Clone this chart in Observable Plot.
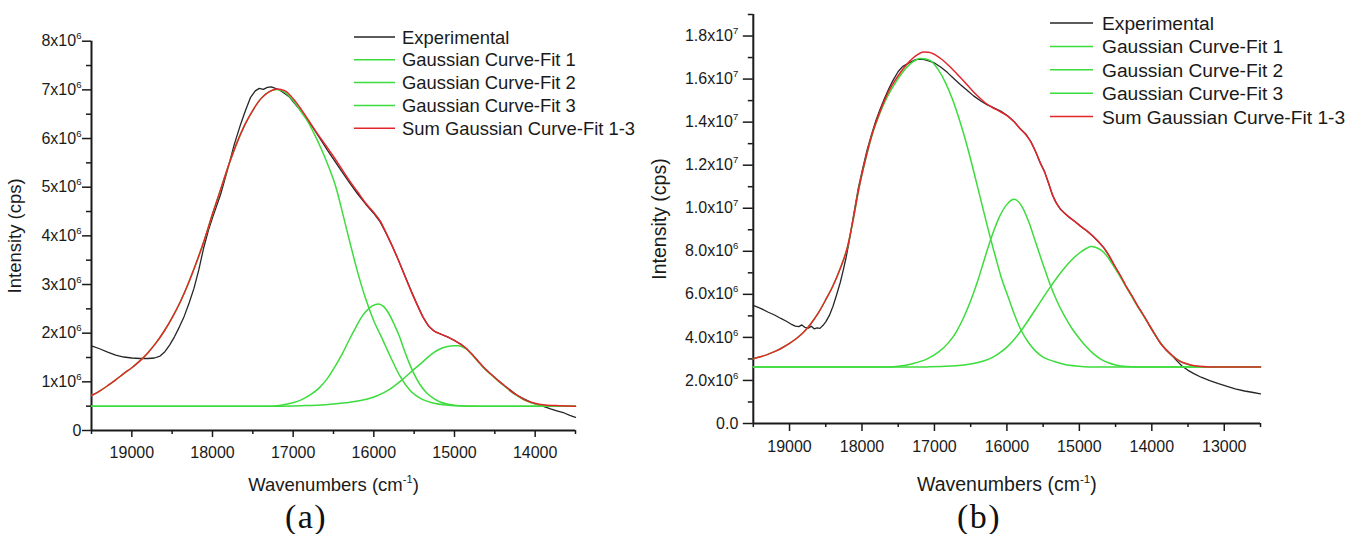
<!DOCTYPE html>
<html><head><meta charset="utf-8">
<script src="https://cdn.jsdelivr.net/npm/d3@7"></script>
<script src="https://cdn.jsdelivr.net/npm/@observablehq/plot@0.6"></script>
<style>
html,body{margin:0;padding:0;background:#fff;}
#root{position:relative;width:1353px;height:534px;overflow:hidden;background:#fff;}
.pl{position:absolute;top:0;}
#overlay{position:absolute;left:0;top:0;}
</style></head><body><div id="root"></div>
<script>
// ---------- DATA (wavenumber cm^-1, intensity in 10^6 cps) ----------
const seriesNames = ["Experimental","Gaussian Curve-Fit 1","Gaussian Curve-Fit 2","Gaussian Curve-Fit 3","Sum Gaussian Curve-Fit 1-3"];
const seriesColors = ["#262626","#3ddc3d","#3ddc3d","#3ddc3d","#e3262b"];

const aXMajor = [19000,18000,17000,16000,15000,14000];
const aXMinor = [19500,18500,17500,16500,15500,14500,13500];
const aYMajor = [0,1,2,3,4,5,6,7,8];
const aYMinor = [0.5,1.5,2.5,3.5,4.5,5.5,6.5,7.5];

const bXMajor = [19000,18000,17000,16000,15000,14000,13000];
const bXMinor = [19500,18500,17500,16500,15500,14500,13500,12500];
const bYMajor = [0,2,4,6,8,10,12,14,16,18];
const bYMinor = [1,3,5,7,9,11,13,15,17,19];

const aExperimental = [[19500,1.74],[19400,1.68],[19300,1.61],[19200,1.55],[19100,1.51],[19000,1.49],[18900,1.48],[18800,1.48],[18720,1.49],[18650,1.53],[18590,1.62],[18530,1.76],[18470,1.93],[18410,2.13],[18350,2.35],[18290,2.62],[18230,2.92],[18170,3.30],[18110,3.75],[18050,4.12],[17990,4.42],[17900,4.85],[17820,5.32],[17730,5.88],[17650,6.30],[17590,6.58],[17530,6.84],[17470,6.98],[17420,7.03],[17370,7.01],[17320,7.05],[17270,7.06],[17220,7.03],[17170,7.00],[17110,6.93],[17050,6.86],[16990,6.74],[16920,6.60],[16860,6.46],[16800,6.33],[16740,6.19],[16660,5.98],[16580,5.77],[16490,5.55],[16400,5.33],[16300,5.09],[16200,4.86],[16100,4.65],[16000,4.46],[15920,4.28],[15850,4.06],[15780,3.82],[15700,3.52],[15620,3.20],[15540,2.88],[15460,2.58],[15390,2.33],[15320,2.14],[15250,2.04],[15170,1.98],[15080,1.92],[15000,1.85],[14920,1.77],[14850,1.68],[14780,1.56],[14710,1.43],[14640,1.30],[14550,1.16],[14460,1.03],[14380,0.92],[14300,0.82],[14220,0.72],[14140,0.65],[14050,0.58],[13970,0.53],[13890,0.49],[13800,0.44],[13720,0.40],[13640,0.36],[13570,0.31],[13500,0.27]];
const aFit1 = [[19500,0.72],[19400,0.81],[19300,0.92],[19200,1.04],[19100,1.17],[19000,1.29],[18900,1.43],[18800,1.60],[18700,1.80],[18600,2.04],[18500,2.32],[18400,2.64],[18300,3.02],[18200,3.45],[18100,3.92],[18000,4.45],[17900,4.95],[17800,5.45],[17700,5.90],[17600,6.28],[17500,6.58],[17400,6.82],[17300,6.96],[17200,7.01],[17100,6.95],[17000,6.78],[16900,6.55],[16820,6.35],[16740,6.10],[16650,5.78],[16560,5.42],[16470,5.00],[16380,4.42],[16290,3.82],[16200,3.25],[16100,2.70],[16000,2.25],[15914,1.95],[15790,1.50],[15670,1.10],[15550,0.82],[15400,0.64],[15250,0.56],[15000,0.51],[14700,0.50],[13500,0.50]];
const aFit2 = [[19500,0.50],[17300,0.50],[17150,0.52],[17030,0.56],[16900,0.63],[16780,0.74],[16680,0.87],[16580,1.06],[16480,1.32],[16390,1.58],[16300,1.88],[16220,2.13],[16140,2.36],[16060,2.51],[15980,2.59],[15940,2.60],[15880,2.55],[15820,2.42],[15750,2.19],[15680,1.92],[15620,1.64],[15560,1.38],[15500,1.16],[15430,0.95],[15350,0.78],[15260,0.66],[15170,0.58],[15080,0.54],[14950,0.51],[14800,0.50],[13500,0.50]];
const aFit3 = [[19500,0.50],[17200,0.50],[16900,0.51],[16600,0.53],[16350,0.57],[16150,0.62],[15950,0.72],[15800,0.85],[15650,1.04],[15500,1.26],[15400,1.40],[15300,1.55],[15200,1.66],[15100,1.72],[15000,1.74],[14950,1.74],[14880,1.70],[14850,1.67],[14780,1.55],[14710,1.42],[14640,1.29],[14550,1.15],[14460,1.02],[14380,0.91],[14300,0.80],[14220,0.71],[14140,0.63],[14050,0.57],[13950,0.53],[13850,0.51],[13700,0.50],[13500,0.50]];
const aSum = [[19500,0.72],[19400,0.81],[19300,0.92],[19200,1.04],[19100,1.17],[19000,1.29],[18900,1.43],[18800,1.60],[18700,1.80],[18600,2.04],[18500,2.32],[18400,2.64],[18300,3.02],[18200,3.45],[18100,3.92],[18000,4.45],[17900,4.95],[17800,5.45],[17700,5.90],[17600,6.28],[17500,6.58],[17400,6.82],[17300,6.96],[17200,7.02],[17100,6.98],[17000,6.82],[16900,6.60],[16800,6.35],[16700,6.10],[16600,5.87],[16500,5.63],[16400,5.38],[16300,5.13],[16200,4.90],[16100,4.67],[16000,4.48],[15920,4.30],[15850,4.07],[15780,3.82],[15700,3.52],[15620,3.19],[15540,2.87],[15460,2.57],[15390,2.33],[15320,2.15],[15250,2.04],[15170,1.98],[15080,1.92],[15000,1.85],[14920,1.77],[14850,1.68],[14780,1.56],[14710,1.43],[14640,1.30],[14550,1.16],[14460,1.03],[14380,0.92],[14300,0.81],[14220,0.72],[14140,0.64],[14050,0.58],[13950,0.54],[13850,0.52],[13700,0.51],[13500,0.50]];

const bExperimental = [[19500,5.49],[19400,5.35],[19300,5.18],[19200,5.03],[19120,4.88],[19050,4.76],[18980,4.62],[18920,4.52],[18870,4.50],[18830,4.58],[18790,4.47],[18740,4.43],[18700,4.52],[18660,4.40],[18620,4.44],[18580,4.42],[18540,4.55],[18500,4.72],[18450,5.02],[18400,5.45],[18350,5.98],[18300,6.55],[18260,7.10],[18220,7.70],[18180,8.40],[18140,9.20],[18100,10.00],[18050,10.95],[17990,11.85],[17930,12.70],[17870,13.40],[17810,14.05],[17750,14.60],[17690,15.10],[17630,15.55],[17570,15.95],[17500,16.35],[17440,16.58],[17380,16.70],[17320,16.80],[17260,16.90],[17200,16.93],[17140,16.90],[17080,16.85],[17000,16.75],[16910,16.55],[16820,16.30],[16730,16.02],[16640,15.74],[16550,15.48],[16460,15.22],[16360,14.98],[16270,14.80],[16180,14.66],[16080,14.50],[15990,14.30],[15900,14.02],[15820,13.70],[15740,13.45],[15670,13.10],[15600,12.60],[15540,12.10],[15480,11.70],[15420,11.10],[15370,10.60],[15320,10.25],[15260,9.95],[15200,9.75],[15130,9.55],[15060,9.38],[14980,9.15],[14900,8.95],[14820,8.72],[14740,8.45],[14660,8.15],[14600,7.85],[14520,7.35],[14440,6.90],[14360,6.40],[14280,5.95],[14200,5.48],[14120,5.05],[14050,4.65],[13970,4.20],[13880,3.72],[13800,3.40],[13720,3.15],[13650,2.90],[13580,2.66],[13500,2.47],[13420,2.32],[13320,2.15],[13200,1.99],[13080,1.85],[12960,1.72],[12850,1.61],[12720,1.51],[12600,1.44],[12500,1.38]];
const bFit1 = [[19500,3.01],[19400,3.10],[19300,3.21],[19200,3.35],[19100,3.52],[19000,3.72],[18900,3.96],[18800,4.26],[18700,4.66],[18600,5.15],[18500,5.75],[18400,6.40],[18300,7.20],[18200,8.20],[18120,9.50],[18050,10.80],[17950,12.28],[17850,13.52],[17750,14.44],[17650,15.18],[17550,15.77],[17450,16.27],[17350,16.66],[17250,16.90],[17200,16.96],[17120,16.93],[17050,16.85],[16950,16.45],[16850,15.85],[16750,15.05],[16650,14.05],[16550,12.90],[16450,11.60],[16350,10.25],[16250,8.90],[16150,7.65],[16080,6.81],[15980,5.85],[15900,5.10],[15804,4.33],[15700,3.75],[15600,3.35],[15500,3.08],[15346,2.88],[15200,2.74],[15000,2.66],[14884,2.63],[14500,2.62],[12500,2.62]];
const bFit2 = [[19500,2.62],[17700,2.62],[17500,2.66],[17300,2.78],[17100,3.00],[16950,3.30],[16800,3.78],[16700,4.25],[16600,4.90],[16500,5.70],[16400,6.65],[16300,7.75],[16200,8.78],[16100,9.62],[16000,10.18],[15900,10.42],[15800,10.12],[15700,9.38],[15600,8.38],[15500,7.38],[15400,6.42],[15300,5.62],[15200,4.96],[15100,4.40],[15000,3.95],[14900,3.55],[14800,3.22],[14700,2.98],[14600,2.82],[14500,2.72],[14350,2.65],[14100,2.62],[12500,2.62]];
const bFit3 = [[19500,2.62],[17300,2.62],[17100,2.63],[16900,2.65],[16700,2.68],[16500,2.76],[16400,2.83],[16300,2.93],[16200,3.07],[16100,3.28],[16000,3.55],[15900,3.90],[15800,4.33],[15700,4.82],[15600,5.33],[15500,5.85],[15400,6.35],[15300,6.82],[15200,7.25],[15100,7.62],[15000,7.92],[14900,8.14],[14838,8.22],[14780,8.19],[14700,8.05],[14620,7.78],[14540,7.38],[14460,6.95],[14380,6.49],[14300,6.03],[14220,5.57],[14140,5.14],[14060,4.71],[13980,4.27],[13900,3.85],[13820,3.50],[13740,3.22],[13660,3.00],[13580,2.84],[13480,2.72],[13380,2.66],[13250,2.63],[13000,2.62],[12500,2.62]];
const bSum = [[19500,3.01],[19400,3.10],[19300,3.21],[19200,3.35],[19100,3.52],[19000,3.72],[18900,3.96],[18800,4.26],[18700,4.66],[18600,5.15],[18500,5.75],[18400,6.40],[18300,7.20],[18200,8.20],[18120,9.50],[18050,10.80],[17950,12.30],[17850,13.55],[17750,14.50],[17650,15.30],[17550,15.90],[17450,16.40],[17350,16.80],[17250,17.10],[17150,17.26],[17080,17.25],[17000,17.15],[16900,16.92],[16800,16.62],[16700,16.28],[16600,15.92],[16500,15.55],[16400,15.20],[16300,14.90],[16200,14.68],[16100,14.50],[16000,14.30],[15900,14.02],[15820,13.70],[15740,13.42],[15670,13.08],[15600,12.60],[15540,12.12],[15480,11.68],[15420,11.12],[15370,10.62],[15320,10.26],[15260,9.96],[15200,9.76],[15130,9.56],[15060,9.38],[14980,9.16],[14900,8.96],[14820,8.73],[14740,8.46],[14660,8.16],[14600,7.86],[14520,7.37],[14440,6.91],[14360,6.41],[14280,5.96],[14200,5.49],[14120,5.06],[14050,4.66],[13970,4.21],[13880,3.73],[13800,3.42],[13720,3.17],[13650,2.97],[13560,2.82],[13460,2.72],[13350,2.66],[13200,2.63],[13000,2.62],[12500,2.62]];

// ---------- RENDER ----------
const ns = "http://www.w3.org/2000/svg";
const root = document.getElementById("root");
const toRows = (arr) => arr.map(([w, v]) => ({w, v}));

function fmtA(v){ return v === 0 ? "0" : `${v}x10^6`; }
function fmtB(v){ if (v === 0) return "0.0"; if (v < 10) return `${v.toFixed(1)}x10^6`; return `${(v/10).toFixed(1)}x10^7`; }

function supify(svg){
  svg.querySelectorAll("text").forEach(t => {
    const s = t.textContent;
    const i = s.indexOf("^");
    if (i < 0) return;
    const m = s.slice(i+1).match(/^(-?\d+)(.*)$/);
    const fs = parseFloat(getComputedStyle(t).fontSize) || 16;
    const raise = Math.round(fs*0.42), ss = (fs*0.6).toFixed(1);
    t.textContent = s.slice(0, i);
    const e = document.createElementNS(ns, "tspan");
    e.setAttribute("font-size", ss); e.setAttribute("dy", -raise); e.textContent = m[1];
    t.appendChild(e);
    if (m[2]) { const r = document.createElementNS(ns, "tspan"); r.setAttribute("dy", raise); r.textContent = m[2]; t.appendChild(r); }
  });
}

function panel(cfg){
  const series = cfg.series;
  const lineMarks = [];
  series.forEach((arr, i) => {
    lineMarks.push(Plot.line(toRows(arr), {x: "w", y: "v", stroke: seriesColors[i],
      strokeWidth: i === 0 ? 1.3 : 1.5, curve: i === 0 ? "linear" : "monotone-x"}));
  });
  const plot = Plot.plot({
    width: cfg.width, height: 534,
    marginLeft: cfg.ml, marginRight: cfg.mr, marginTop: cfg.mt, marginBottom: cfg.mb,
    style: {fontFamily: "'Liberation Sans', Arial, Helvetica, sans-serif", fontSize: "16px", color: "#1a1a1a", background: "transparent", overflow: "visible"},
    x: {domain: cfg.xDomain},
    y: {domain: cfg.yDomain},
    marks: [
      Plot.axisX(cfg.xMinor, {tickSize: 4, tickFormat: () => "", label: null, strokeWidth: 1.5}),
      Plot.axisX(cfg.xMajor, {tickSize: cfg.xTick, tickPadding: cfg.xPad, tickFormat: d => String(d), fontSize: cfg.tickFs,
        label: "Wavenumbers (cm^-1)", labelAnchor: "center", labelArrow: "none", labelOffset: cfg.xLabelOffset, strokeWidth: 1.5}),
      Plot.axisY(cfg.yMinor, {tickSize: 5, tickFormat: () => "", label: null, strokeWidth: 1.5}),
      Plot.axisY(cfg.yMajor, {tickSize: cfg.yTick, tickPadding: cfg.yPad, tickFormat: cfg.fmt, fontSize: cfg.tickFs,
        label: "Intensity (cps)", labelAnchor: "center", labelArrow: "none", labelOffset: cfg.yLabelOffset, strokeWidth: 1.5}),
      Plot.ruleY([cfg.yDomain[0]], {strokeWidth: 2, stroke: "#1a1a1a"}),
      Plot.ruleX([cfg.xDomain[0]], {strokeWidth: 2, stroke: "#1a1a1a"}),
      ...lineMarks
    ]
  });
  const wrap = document.createElement("div");
  wrap.className = "pl"; wrap.style.left = cfg.left + "px";
  wrap.appendChild(plot);
  root.appendChild(wrap);
  plot.querySelectorAll('g[aria-label="x-axis label"], g[aria-label="y-axis label"]').forEach(g => g.setAttribute("font-size", cfg.labelFs));
  supify(plot);
  return plot;
}

panel({left: 0, width: 600, ml: 91, mr: 25, mt: 40.7, mb: 104,
  xDomain: [19500, 13500], yDomain: [0, 8],
  xMajor: aXMajor, xMinor: aXMinor, yMajor: aYMajor, yMinor: aYMinor,
  xTick: 7, xPad: 9, yTick: 9, yPad: 1, tickFs: 16, labelFs: 18.5,
  xLabelOffset: 60, yLabelOffset: 84, fmt: fmtA,
  series: [aExperimental, aFit1, aFit2, aFit3, aSum]});

panel({left: 600, width: 753, ml: 152.8, mr: 93, mt: 14, mb: 111,
  xDomain: [19500, 12500], yDomain: [0, 19],
  xMajor: bXMajor, xMinor: bXMinor, yMajor: bYMajor, yMinor: bYMinor,
  xTick: 8, xPad: 9, yTick: 10, yPad: 5, tickFs: 16, labelFs: 19.5,
  xLabelOffset: 67, yLabelOffset: 101, fmt: fmtB,
  series: [bExperimental, bFit1, bFit2, bFit3, bSum]});

// ---------- LEGENDS & CAPTIONS ----------
const ov = d3.select(root).append("svg").attr("id", "overlay").attr("width", 1353).attr("height", 534);
function legend(x0, x1, tx, y0, dy, fs){
  seriesNames.forEach((name, i) => {
    const y = y0 + i*dy;
    ov.append("line").attr("x1", x0).attr("x2", x1).attr("y1", y).attr("y2", y)
      .attr("stroke", seriesColors[i]).attr("stroke-width", 1.5);
    ov.append("text").attr("x", tx).attr("y", y).attr("dy", "0.36em")
      .attr("font-family", "'Liberation Sans', Arial, sans-serif").attr("font-size", fs)
      .attr("fill", "#1a1a1a").text(name);
  });
}
legend(354, 395, 402, 37, 22.8, 18.4);
legend(1050, 1093, 1102, 23, 23.4, 19.2);

const caps = [["(a)", 306], ["(b)", 979]];
caps.forEach(([t, x]) => {
  ov.append("text").attr("x", x).attr("y", 528).attr("text-anchor", "middle")
    .attr("font-family", "'Liberation Serif', 'Times New Roman', serif").attr("font-size", 34)
    .attr("letter-spacing", 1.5).attr("fill", "#111").text(t);
});
</script></body></html>
